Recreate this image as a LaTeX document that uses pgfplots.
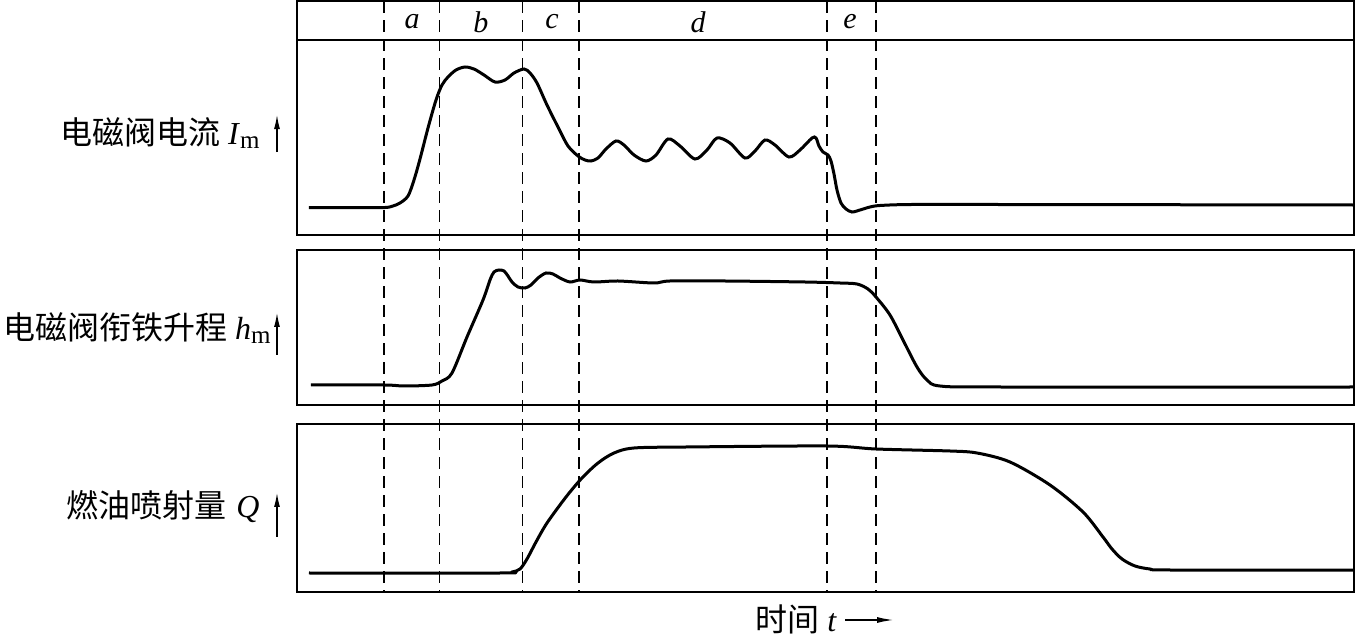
\documentclass[border=0pt]{standalone}
\usepackage{fontspec}
\setmainfont{Liberation Serif}
\newfontfamily\cjk{Noto Sans CJK SC}
\usepackage{pgfplots}
\pgfplotsset{compat=1.18}
\usetikzlibrary{arrows.meta}

\pgfplotsset{panel/.style={
  scale only axis, width=528.5pt, xmin=297, xmax=1354,
  xtick=\empty, ytick=\empty, clip=false,
  axis line style={line width=0.75pt},
  anchor=north west},
  curve/.style={black, line width=1.5pt, smooth, tension=0.5, no marks}
}

\begin{document}
\begin{tikzpicture}
\useasboundingbox (0,0) rectangle (678.5pt,-318pt);

% ---------- panel 1: solenoid current ----------
\begin{axis}[panel, at={(148.5pt,-0.5pt)}, height=117pt, ymin=0, ymax=234]
\addplot[curve] coordinates {
(309,27.5)(330,27.5)(360,27.5)(385,27.5)(393,29)(400,32)(408,39)(414,55)(420,76)(428,107)(436,135)(442,150)(448,158)(456,165)(465,168)(474,166)(484,160)(495,153)(505,155)(514,162)(524,166)(530,162)(537,152)(547,130)(559,106)(568,89)(578,79)(585,75)(591,74)(598,77)(606,86)(616,94)(624,90)(634,80)(646,74)(656,80)(668,96)(680,89)(695,76)(707,85)(717,97)(730,92)(745,77)(755,84)(765,95)(775,90)(789,78)(800,85)(812,97)(816,97)(819,89)(823,83)(828,80)(831,74)(834,61)(837,45)(841,32)(846,26)(852,23)(860,25)(870,28)(880,29.5)(911,30.5)(1000,30.5)(1354,30)
};
\draw[line width=0.75pt] (axis cs:297,195) -- (axis cs:1354,195);
\node[font=\fontsize{15}{15}\selectfont\itshape] at (axis cs:412,213) {a};
\node[font=\fontsize{15}{15}\selectfont\itshape] at (axis cs:481,213) {b};
\node[font=\fontsize{15}{15}\selectfont\itshape] at (axis cs:552,213) {c};
\node[font=\fontsize{15}{15}\selectfont\itshape] at (axis cs:698,213) {d};
\node[font=\fontsize{15}{15}\selectfont\itshape] at (axis cs:850,213) {e};
% dashed phase boundaries through all panels
\draw[dashed, line width=0.7pt, dash pattern=on 6pt off 3.5pt] (axis cs:384,234) -- (axis cs:384,-357);
\draw[dashed, line width=0.5pt, dash pattern=on 6pt off 3.5pt] (axis cs:440,234) -- (axis cs:440,-357);
\draw[dashed, line width=0.5pt, dash pattern=on 6pt off 3.5pt] (axis cs:522,234) -- (axis cs:522,-357);
\draw[dashed, line width=0.75pt, dash pattern=on 6pt off 3.5pt] (axis cs:579,234) -- (axis cs:579,-357);
\draw[dashed, line width=0.75pt, dash pattern=on 6pt off 3.5pt] (axis cs:827,234) -- (axis cs:827,-357);
\draw[dashed, line width=0.75pt, dash pattern=on 6pt off 3.5pt] (axis cs:876,234) -- (axis cs:876,-357);
% label
\node[anchor=east, inner sep=0pt, font=\fontsize{16}{16}\selectfont] at (axis cs:260,102) {{\cjk 电磁阀电流}\hspace{4pt}\textit{I}\raisebox{-2pt}{\fontsize{12.5}{12.5}\selectfont m}};
\draw[line width=0.6pt, -{Latex[length=7pt,width=3pt]}] (axis cs:277,83) -- (axis cs:277,120);
\end{axis}

% ---------- panel 2: armature lift ----------
\begin{axis}[panel, at={(148.5pt,-125pt)}, height=77.5pt, ymin=0, ymax=155]
\addplot[curve] coordinates {
(311,20)(384,20)(404,19)(432,20)(442,24)(452,32)(467,68)(483,105)(490,125)(494,133)(499,135)(504,134)(508,129)(512,123)(518,118)(525,117)(531,120)(538,127)(546,132)(553,131)(560,127)(570,123)(580,125)(594,123)(618,124)(654,122)(670,124)(725,124)(805,123)(840,122)(857,121)(868,116)(876,108)(890,90)(903,65)(917,38)(927,25)(940,19)(1000,18)(1354,18)
};
\node[anchor=east, inner sep=0pt, font=\fontsize{16}{16}\selectfont] at (axis cs:271,77) {{\cjk 电磁阀衔铁升程}\hspace{4pt}\textit{h}\raisebox{-2pt}{\fontsize{12.5}{12.5}\selectfont m}};
\draw[line width=0.6pt, -{Latex[length=7pt,width=3pt]}] (axis cs:277,50) -- (axis cs:277,92);
\end{axis}

% ---------- panel 3: fuel injection quantity ----------
\begin{axis}[panel, at={(148.5pt,-212pt)}, height=84pt, ymin=0, ymax=168]
\addplot[curve] coordinates {
(309,19)(500,19)(512,20)(520,23)(527,33)(536,50)(547,69)(566,95)(582,114)(598,129)(614,139)(634,144)(686,145)(827,146)(876,143)(950,141)(977,139)(1010,130)(1050,107)(1083,80)(1103,55)(1112,43)(1122,33)(1135,26)(1150,23)(1170,22)(1354,22)
};
\node[anchor=east, inner sep=0pt, font=\fontsize{16}{16}\selectfont] at (axis cs:260,85) {{\cjk 燃油喷射量}\hspace{5pt}\textit{Q}};
\draw[line width=0.6pt, -{Latex[length=7pt,width=3pt]}] (axis cs:277,55) -- (axis cs:277,99);
\node[anchor=west, inner sep=0pt, font=\fontsize{16}{16}\selectfont] at (axis cs:755,-27) {{\cjk 时间}\hspace{4pt}\textit{t}};
\draw[line width=0.6pt, -{Latex[length=8pt,width=3pt]}] (axis cs:845,-28) -- (axis cs:893,-28);
\end{axis}
\end{tikzpicture}
\end{document}
